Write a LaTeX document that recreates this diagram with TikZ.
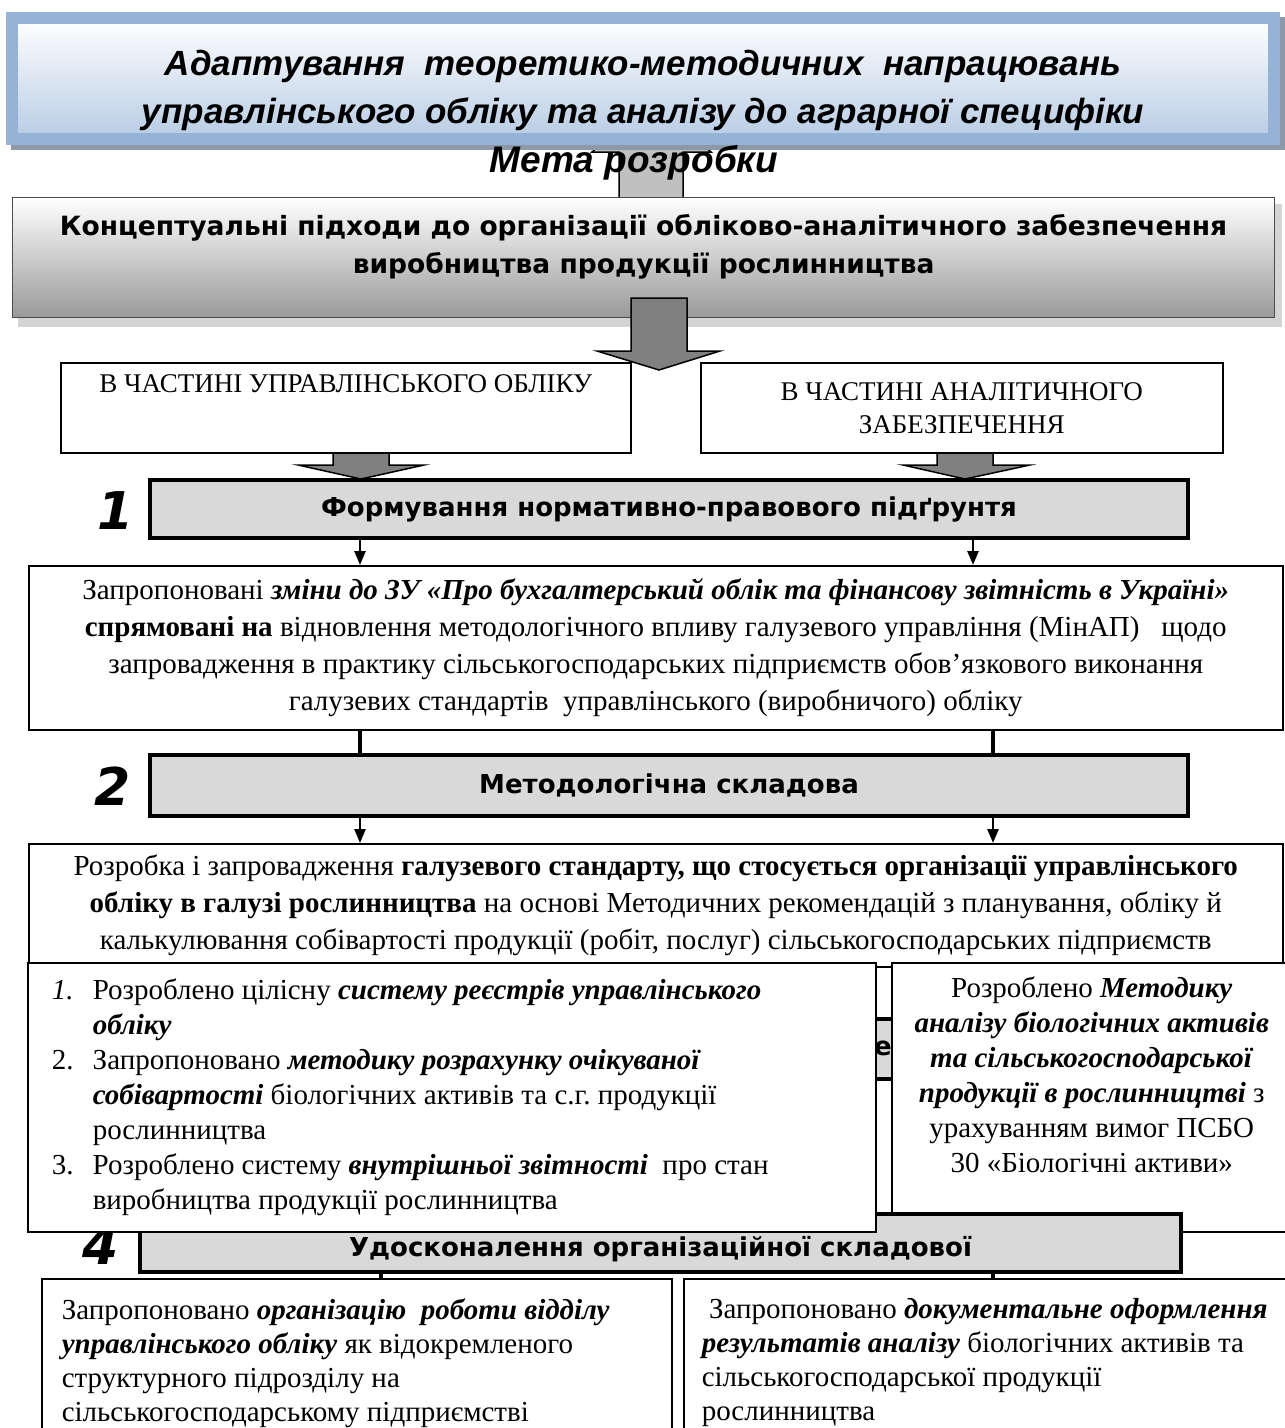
\documentclass[tikz,border=0pt]{standalone}
\usepackage{fontspec}
\setmainfont{Liberation Serif}
\newfontfamily\titlefont{Liberation Sans}
\newfontfamily\heavyfont{DejaVu Sans}
\usetikzlibrary{arrows.meta,calc}

\definecolor{frameblue}{HTML}{95B3D7}
\definecolor{innerblue}{HTML}{B8CCE4}
\definecolor{shadowgray}{HTML}{8D98A8}
\definecolor{lightshadow}{HTML}{D4D4D4}
\definecolor{boxgray}{HTML}{D9D9D9}
\definecolor{arrowgray}{HTML}{808080}
\definecolor{arrowlight}{HTML}{C0C0C0}

\tikzset{
  titlebox/.style={draw=frameblue, line width=12pt, top color=white, bottom color=innerblue},
  conceptbox/.style={draw=black!70, line width=1.2pt, top color=white, bottom color=black!40,
    align=center, font=\heavyfont\bfseries\fontsize{26.5}{38}\selectfont},
  stagebox/.style={draw, line width=4pt, fill=boxgray, align=center,
    font=\heavyfont\bfseries\fontsize{26}{30}\selectfont},
  stagenum/.style={font=\heavyfont\bfseries\itshape\fontsize{52}{52}\selectfont},
  textbox/.style={draw, line width=1.5pt, fill=white, align=center,
    font=\frenchspacing\fontsize{29}{37}\selectfont},
  listbox/.style={draw, line width=1.5pt, fill=white, align=flush left,
    font=\frenchspacing\fontsize{29}{35}\selectfont},
  blockarrow/.style={draw=black, line width=1.5pt, fill=arrowgray},
  liftarrow/.style={draw=black, line width=1.5pt, fill=arrowlight},
  thinarrow/.style={line width=2.5pt, -{Triangle[width=11pt,length=14pt]}},
  thickline/.style={line width=4pt},
}

\begin{document}
\begin{tikzpicture}[x=1pt, y=-1pt]
  \useasboundingbox (0,0) rectangle (1285,1428);
  \clip (0,0) rectangle (1285,1428);

  % Стрілка вгору до заголовка
  \draw[liftarrow] (619,198) -- (619,152) -- (592,152) -- (651,100)
    -- (711,152) -- (683,152) -- (683,198) -- cycle;

  % Заголовок з тінню
  \fill[shadowgray] (11,17) rectangle (1285,150);
  \node[titlebox, anchor=north west, minimum width=1262pt, minimum height=121pt] (title) at (6,12) {};
  \node[font=\titlefont\bfseries\itshape\fontsize{35}{48}\selectfont, align=center] (titletext) at (643,90)
    {Адаптування\ \ теоретико-методичних\ \ напрацювань\\управлінського обліку та аналізу до аграрної специфіки};

  \node[font=\titlefont\bfseries\itshape\fontsize{37}{40}\selectfont] (goal) at (634,163) {Мета розробки};

  % Концептуальні підходи
  \fill[lightshadow] (18,204) rectangle (1282,327);
  \node[conceptbox, anchor=north west, minimum width=1262pt, minimum height=120pt] (concept) at (12,197)
    {Концептуальні підходи до організації обліково-аналітичного забезпечення\\виробництва продукції рослинництва\\[-10pt]};

  \draw[blockarrow] (631,298) -- (631,351) -- (597,351) -- (659,370)
    -- (720,351) -- (687,351) -- (687,298) -- cycle;

  % Дві частини
  \node[textbox, font=\fontsize{27}{37}\selectfont, anchor=north west, minimum width=570pt, minimum height=90pt] (partL) at (60,362)
    {В ЧАСТИНІ УПРАВЛІНСЬКОГО ОБЛІКУ\\ \strut};
  \node[textbox, font=\fontsize{27}{33}\selectfont, anchor=north west, minimum width=522pt, minimum height=90pt] (partR) at (700,362)
    {В ЧАСТИНІ АНАЛІТИЧНОГО\\ЗАБЕЗПЕЧЕННЯ};

  \draw[blockarrow] (333,453) -- (333,465) -- (298,465) -- (361,479)
    -- (424,465) -- (389,465) -- (389,453) -- cycle;
  \draw[blockarrow] (937,453) -- (937,465) -- (903,465) -- (965,479)
    -- (1030,465) -- (993,465) -- (993,453) -- cycle;

  \coordinate (colL) at (360,0);
  \coordinate (colR) at (973,0);
  \coordinate (colS) at (993,0);

  % Етап 1
  \node[stagebox, anchor=north west, minimum width=1038pt, minimum height=58pt] (box1) at (148,478)
    {Формування нормативно-правового підґрунтя};
  \node[stagenum] (num1) at (116,511) {1};

  \node[textbox, anchor=north west, minimum width=1254pt, minimum height=164pt] (text1) at (28,565)
    {Запропоновані \textbf{\textit{зміни до ЗУ «Про бухгалтерський облік та фінансову звітність в Україні»}}\\
     \textbf{спрямовані на} відновлення методологічного впливу галузевого управління (МінАП)\ \ \ щодо\\
     запровадження в практику сільськогосподарських підприємств обов’язкового виконання\\
     галузевих стандартів\ \ управлінського (виробничого) обліку};

  \draw[thinarrow] (box1.south -| colL) -- (text1.north -| colL);
  \draw[thinarrow] (box1.south -| colR) -- (text1.north -| colR);

  % Етап 2
  \node[stagebox, anchor=north west, minimum width=1038pt, minimum height=61pt] (box2) at (148,753)
    {Методологічна складова};
  \node[stagenum] (num2) at (113,786) {2};

  \draw[thickline] (text1.south -| colL) -- (box2.north -| colL);
  \draw[thickline] (text1.south -| colS) -- (box2.north -| colS);

  \node[textbox, anchor=north west, minimum width=1254pt, minimum height=123pt] (text2) at (28,843)
    {Розробка і запровадження \textbf{галузевого стандарту, що стосується організації управлінського}\\
     \textbf{обліку в галузі рослинництва} на основі Методичних рекомендацій з планування, обліку й\\
     калькулювання собівартості продукції (робіт, послуг) сільськогосподарських підприємств};

  \draw[thinarrow] (box2.south -| colL) -- (text2.north -| colL);
  \draw[thinarrow] (box2.south -| colS) -- (text2.north -| colS);

  % Етап 3 (прихований)
  \node[stagebox, anchor=north west, minimum width=1038pt, minimum height=60pt] (box3) at (148,1017) {};
  \node[font=\heavyfont\bfseries\fontsize{26}{30}\selectfont] (box3e) at (883,1048) {е};

  \node[listbox, align=center, anchor=north west, minimum width=400pt, minimum height=269pt] (methodR) at (891,962)
    {Розроблено \textbf{\textit{Методику}}\\
     \textbf{\textit{аналізу біологічних активів}}\\
     \textbf{\textit{та сільськогосподарської}}\\
     \textbf{\textit{продукції в рослинництві}} з\\
     урахуванням вимог ПСБО\\
     30 «Біологічні активи»\\ \strut};

  % Етап 4
  \node[stagebox, anchor=north west, minimum width=1041pt, minimum height=58pt] (box4) at (138,1212)
    {\raisebox{-6pt}[\height][\depth]{Удосконалення організаційної складової}};
  \node[stagenum] (num4) at (101,1246) {4};

  \node[listbox, anchor=north west, minimum width=848pt, minimum height=269pt, text width=800pt,
    inner xsep=24pt] (methodL) at (27,962)
    {\makebox[41pt][l]{\textit{1.}}Розроблено цілісну \textbf{\textit{систему реєстрів управлінського}}\\
     \hspace*{41pt}\textbf{\textit{обліку}}\\
     \makebox[41pt][l]{2.}Запропоновано \textbf{\textit{методику розрахунку очікуваної}}\\
     \hspace*{41pt}\textbf{\textit{собівартості}} біологічних активів та с.г. продукції\\
     \hspace*{41pt}рослинництва\\
     \makebox[41pt][l]{3.}Розроблено систему \textbf{\textit{внутрішньої звітності}}\ \ про стан\\
     \hspace*{41pt}виробництва продукції рослинництва};

  \node[listbox, anchor=north west, minimum width=628pt, minimum height=168pt, text width=590pt,
    inner xsep=20pt, font=\frenchspacing\fontsize{29}{34}\selectfont] (orgL) at (41,1278)
    {Запропоновано \textbf{\textit{організацію\ \ роботи відділу}}\\
     \textbf{\textit{управлінського обліку}} як відокремленого\\
     структурного підрозділу на\\
     сільськогосподарському підприємстві};
  \node[listbox, anchor=north west, minimum width=620pt, minimum height=168pt, text width=590pt,
    inner xsep=18pt, font=\frenchspacing\fontsize{29}{34}\selectfont] (orgR) at (683,1278)
    {\ Запропоновано \textbf{\textit{документальне оформлення}}\\
     \textbf{\textit{результатів аналізу}} біологічних активів та\\
     сільськогосподарської продукції\\
     рослинництва};

  \coordinate (colB) at (381,0);
  \draw[thickline] (box4.south -| colB) -- (orgL.north -| colB);
  \draw[thickline] (box4.south -| colS) -- (orgR.north -| colS);
\end{tikzpicture}
\end{document}
